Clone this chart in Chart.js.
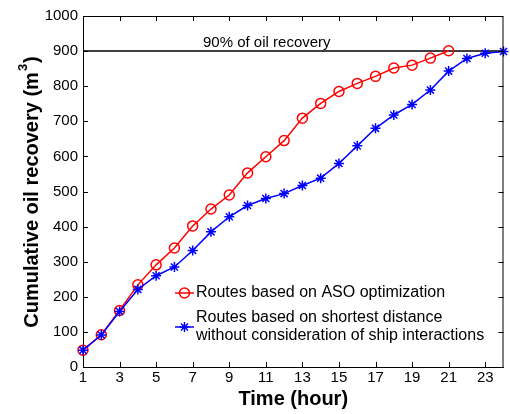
<!DOCTYPE html>
<html>
<head>
<meta charset="utf-8">
<script src="https://cdn.jsdelivr.net/npm/chart.js@4/dist/chart.umd.min.js"></script>
<style>
  html, body { margin: 0; padding: 0; background: #fff; }
  canvas { display: block; }
</style>
</head>
<body>
<canvas id="chart" width="510" height="414"></canvas>
<script>
// hours since start of the operation
const hours = [1, 2, 3, 4, 5, 6, 7, 8, 9, 10, 11, 12, 13, 14, 15, 16, 17, 18, 19, 20, 21, 22, 23, 24];
// cumulative recovered oil, m3
const asoRecovery = [48, 92, 161, 234, 291, 339, 402, 450, 490, 553, 599, 645, 709, 751, 785, 808, 828, 852, 860, 880, 901];
const shortestRecovery = [48, 91, 158, 221, 260, 285, 332, 385, 428, 460, 480, 494, 517, 538, 580, 630, 680, 718, 748, 789, 843, 879, 894, 899];
const targetLevel = 900;
const targetHours = [1, 24];
const xTickValues = [1, 3, 5, 7, 9, 11, 13, 15, 17, 19, 21, 23];
const yTickValues = [0, 100, 200, 300, 400, 500, 600, 700, 800, 900, 1000];
const seriesNames = ['Routes based on ASO optimization',
  ['Routes based on shortest distance', 'without consideration of ship interactions']];
const targetText = '90% of oil recovery';

const FONT = '"Liberation Sans", Arial, sans-serif';
Chart.defaults.font.family = FONT;
Chart.defaults.font.size = 15;
Chart.defaults.color = '#000';

const toPoints = (ys) => ys.map((y, i) => ({ x: hours[i], y: y }));

// MATLAB-like frame: box on all sides, ticks pointing inward, titles and legend
const framePlugin = {
  id: 'frame',
  afterDraw(chart) {
    const { ctx, chartArea: a, scales } = chart;
    const tick = 5;
    ctx.save();
    ctx.strokeStyle = '#000';
    ctx.lineWidth = 1;
    ctx.beginPath();
    ctx.moveTo(a.left + 0.5, a.top + 0.5);
    ctx.lineTo(a.right - 0.5, a.top + 0.5);
    ctx.lineTo(a.right - 0.5, a.bottom);
    xTickValues.forEach(v => {
      const px = Math.round(scales.x.getPixelForValue(v)) + 0.5;
      ctx.moveTo(px, a.bottom);
      ctx.lineTo(px, a.bottom - tick);
      ctx.moveTo(px, a.top);
      ctx.lineTo(px, a.top + tick);
    });
    yTickValues.forEach(v => {
      const py = Math.round(scales.y.getPixelForValue(v)) + 0.5;
      ctx.moveTo(a.left, py);
      ctx.lineTo(a.left + tick, py);
      ctx.moveTo(a.right, py);
      ctx.lineTo(a.right - tick, py);
    });
    ctx.stroke();

    // target label
    ctx.fillStyle = '#000';
    ctx.font = '15px ' + FONT;
    ctx.textAlign = 'left';
    ctx.textBaseline = 'alphabetic';
    ctx.fillText(targetText, 203, 47);

    // x title
    ctx.font = 'bold 20px ' + FONT;
    ctx.textAlign = 'center';
    ctx.textBaseline = 'middle';
    ctx.fillText('Time (hour)', (a.left + a.right) / 2, 399);

    // y title with superscript
    ctx.save();
    ctx.translate(38, 192);
    ctx.rotate(-Math.PI / 2);
    ctx.textAlign = 'left';
    ctx.textBaseline = 'alphabetic';
    const main = 'Cumulative oil recovery (m';
    ctx.font = 'bold 20px ' + FONT;
    const w1 = ctx.measureText(main).width;
    const w3 = ctx.measureText(')').width;
    ctx.font = 'bold 13px ' + FONT;
    const w2 = ctx.measureText('3').width;
    let x0 = -(w1 + w2 + w3 + 2) / 2;
    ctx.font = 'bold 20px ' + FONT;
    ctx.fillText(main, x0, 0);
    ctx.font = 'bold 13px ' + FONT;
    ctx.fillText('3', x0 + w1 + 1, -11);
    ctx.font = 'bold 20px ' + FONT;
    ctx.fillText(')', x0 + w1 + w2 + 2, 0);
    ctx.restore();

    // legend
    const lx = 175, lw = 19, tx = 196;
    ctx.font = '16px ' + FONT;
    ctx.textAlign = 'left';
    ctx.textBaseline = 'middle';
    ctx.lineWidth = 1.5;

    ctx.strokeStyle = '#ff0000';
    ctx.fillStyle = 'rgba(0,0,0,0)';
    ctx.beginPath();
    ctx.moveTo(lx, 293);
    ctx.lineTo(lx + lw, 293);
    ctx.stroke();
    Chart.helpers.drawPoint(ctx, { pointStyle: 'circle', radius: 5, borderWidth: 1.5 }, lx + lw / 2, 293);
    ctx.fillStyle = '#000';
    ctx.fillText(seriesNames[0], tx, 293);

    ctx.strokeStyle = '#0000ff';
    ctx.fillStyle = 'rgba(0,0,0,0)';
    ctx.beginPath();
    ctx.moveTo(lx, 327);
    ctx.lineTo(lx + lw, 327);
    ctx.stroke();
    Chart.helpers.drawPoint(ctx, { pointStyle: 'star', radius: 5, borderWidth: 1.5 }, lx + lw / 2, 327);
    ctx.fillStyle = '#000';
    ctx.fillText(seriesNames[1][0], tx, 318);
    ctx.fillText(seriesNames[1][1], tx, 336);
    ctx.restore();
  }
};

new Chart(document.getElementById('chart'), {
  type: 'line',
  data: {
    datasets: [
      {
        label: seriesNames[0],
        data: toPoints(asoRecovery),
        borderColor: '#ff0000',
        backgroundColor: 'rgba(0,0,0,0)',
        borderWidth: 1.5,
        pointStyle: 'circle',
        pointRadius: 5,
        pointBorderWidth: 1.5,
        tension: 0,
        clip: false,
        order: 1
      },
      {
        label: 'Routes based on shortest distance without consideration of ship interactions',
        data: toPoints(shortestRecovery),
        borderColor: '#0000ff',
        backgroundColor: '#0000ff',
        borderWidth: 1.5,
        pointStyle: 'star',
        pointRadius: 5,
        pointBorderWidth: 1.5,
        tension: 0,
        clip: false,
        order: 0
      },
      {
        label: targetText,
        data: targetHours.map(h => ({ x: h, y: targetLevel })),
        borderColor: '#000',
        borderWidth: 1.5,
        pointRadius: 0,
        clip: false,
        order: 2
      }
    ]
  },
  options: {
    responsive: false,
    animation: false,
    devicePixelRatio: 1,
    layout: { padding: { top: 16, right: 6, left: 0, bottom: 0 } },
    plugins: {
      legend: { display: false },
      tooltip: { enabled: false }
    },
    scales: {
      x: {
        type: 'linear',
        min: 1,
        max: 24,
        grid: { display: false, drawTicks: false },
        border: { color: '#000', width: 1 },
        ticks: { padding: 2, maxRotation: 0, autoSkip: false, callback: (v) => String(v) },
        afterBuildTicks: (s) => { s.ticks = xTickValues.map(v => ({ value: v })); },
        afterFit: (s) => { s.height = 47; }
      },
      y: {
        min: 0,
        max: 1000,
        grid: { display: false, drawTicks: false },
        border: { color: '#000', width: 1 },
        ticks: { stepSize: 100, padding: 5, callback: (v) => String(v) },
        afterFit: (s) => { s.width = 83; }
      }
    }
  },
  plugins: [framePlugin]
});
</script>
</body>
</html>
